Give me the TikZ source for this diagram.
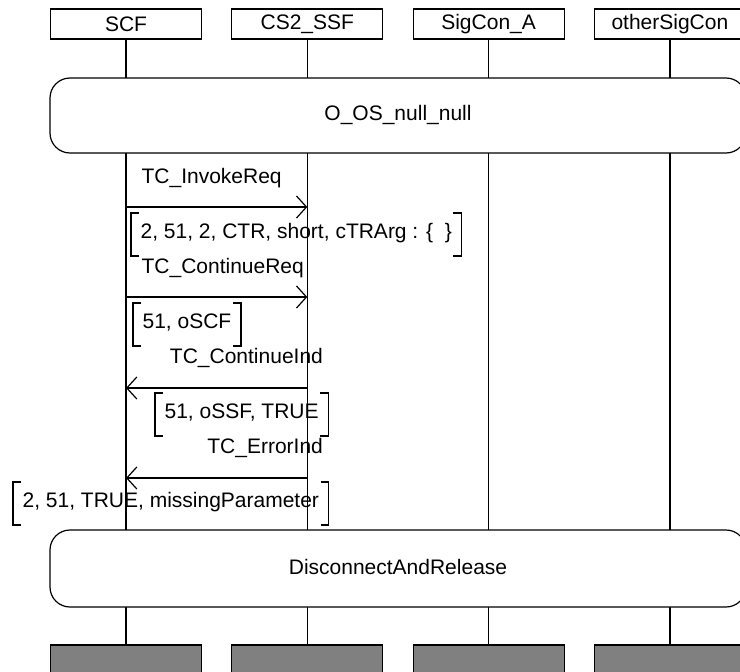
\documentclass[tikz,border=0pt]{standalone}
\usepackage{fontspec}
\setmainfont{Liberation Sans}
\usetikzlibrary{arrows.meta}
\tikzset{>={Straight Barb[length=10pt,width=22pt]}}
\tikzset{
  entity/.style={draw, minimum width=151pt, minimum height=30pt, inner sep=0pt},
  ender/.style={draw, fill=gray, minimum width=151pt, minimum height=40pt},
  region/.style={draw, fill=white, rounded corners=20pt, minimum width=696pt, inner sep=0pt},
  msg/.style={->},
  msglabel/.style={inner sep=0pt},
  params/.style={inner xsep=9pt, inner ysep=0pt, text height=13pt, text depth=6pt, minimum height=42pt, anchor=base west},
  bracket/.style={line width=1.5pt}
}

\begin{document}
\begin{tikzpicture}[x=1pt, y=-1pt, line width=1.2pt, font=\fontsize{21}{25}\selectfont]
    \useasboundingbox (0,0) rectangle (740,672);
    % instances
    \node[entity] (scf) at (126,24) {SCF};
    \node[entity] (ssf) at (307.3,24) {CS2\_SSF};
    \node[entity] (sigA) at (488.6,24) {SigCon\_A};
    \node[entity] (other) at (669.9,24) {otherSigCon};
    \node[ender] (scfend) at (126,665) {};
    \node[ender] (ssfend) at (307.3,665) {};
    \node[ender] (sigAend) at (488.6,665) {};
    \node[ender] (otherend) at (669.9,665) {};
    \draw (scf) -- (scfend);
    \draw (ssf) -- (ssfend);
    \draw (sigA) -- (sigAend);
    \draw (other) -- (otherend);
    % conditions
    \node[region, minimum height=75pt] (init) at (398,115.5) {\raisebox{5pt}{O\_OS\_null\_null}};
    \node[region, minimum height=77pt] (release) at (398,568.5) {\raisebox{3pt}{DisconnectAndRelease}};
    % messages
    \coordinate (m1) at (0,207);
    \coordinate (m2) at (0,297);
    \coordinate (m3) at (0,388);
    \coordinate (m4) at (0,478);
    \draw[msg] (scf |- m1) -- (ssf |- m1);
    \draw[msg] (scf |- m2) -- (ssf |- m2);
    \draw[msg] (ssf |- m3) -- (scf |- m3);
    \draw[msg] (ssf |- m4) -- (scf |- m4);
    \node[msglabel, anchor=base west] (invoke) at (141,183) {TC\_InvokeReq};
    \node[msglabel, anchor=base west] (contreq) at (141,273) {TC\_ContinueReq};
    \node[msglabel, anchor=base east] (contind) at (323.5,363) {TC\_ContinueInd};
    \node[msglabel, anchor=base east] (errind) at (323.5,453) {TC\_ErrorInd};
    % parameters
    \node[params] (p1) at (131,238) {2, 51, 2, CTR, short, cTRArg : \{\ \ \}};
    \node[params] (p2) at (133,328) {51, oSCF};
    \node[params] (p3) at (155,418) {51, oSSF, TRUE};
    \node[params] (p4) at (13,507) {2, 51, TRUE, missingParameter};
    \draw[bracket] ([xshift=8pt]p1.north west) -- (p1.north west) -- (p1.south west) -- ([xshift=8pt]p1.south west);
    \draw[bracket] ([xshift=-8pt]p1.north east) -- (p1.north east) -- (p1.south east) -- ([xshift=-8pt]p1.south east);
    \draw[bracket] ([xshift=8pt]p2.north west) -- (p2.north west) -- (p2.south west) -- ([xshift=8pt]p2.south west);
    \draw[bracket] ([xshift=-8pt]p2.north east) -- (p2.north east) -- (p2.south east) -- ([xshift=-8pt]p2.south east);
    \draw[bracket] ([xshift=8pt]p3.north west) -- (p3.north west) -- (p3.south west) -- ([xshift=8pt]p3.south west);
    \draw[bracket] ([xshift=-8pt]p3.north east) -- (p3.north east) -- (p3.south east) -- ([xshift=-8pt]p3.south east);
    \draw[bracket] ([xshift=8pt]p4.north west) -- (p4.north west) -- (p4.south west) -- ([xshift=8pt]p4.south west);
    \draw[bracket] ([xshift=-8pt]p4.north east) -- (p4.north east) -- (p4.south east) -- ([xshift=-8pt]p4.south east);
\end{tikzpicture}
\end{document}
